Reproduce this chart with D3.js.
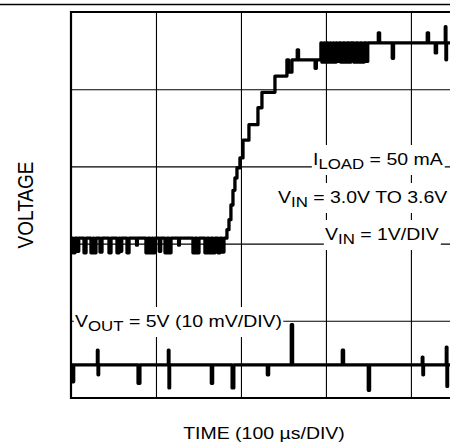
<!DOCTYPE html>
<html>
<head>
<meta charset="utf-8">
<script src="https://cdn.jsdelivr.net/npm/d3@7"></script>
<style>
  body { margin: 0; background: #fff; }
  text { font-family: "Liberation Sans", Arial, sans-serif; fill: #000; }
</style>
</head>
<body>
<script>
// time in µs (100 µs/DIV), level in divisions
let xGrid = [100, 200, 300, 400];
let yGrid = [1, 2, 3, 4];

// V_IN trace: level changes [t, level]
let vinSteps = [
  [1, 2.07], [183.5, 2.18], [185.9, 2.31], [188.2, 2.50], [190.6, 2.69],
  [192.9, 2.85], [195.3, 2.98], [198.8, 3.11], [202.4, 3.34], [209.4, 3.54],
  [220.0, 3.76], [224.7, 3.96], [240.0, 4.17], [254.1, 4.38], [294.1, 4.60]
];
// V_IN glitches: [t, width, high, low]
let vinGlitches = [
  [3.5, 2.4, 2.07, 1.88], [8.2, 1.8, 2.07, 1.90], [16.5, 2.4, 2.07, 1.88],
  [24.7, 2.4, 2.07, 1.88], [28.2, 2.4, 2.07, 1.88], [35.3, 2.4, 2.07, 1.89],
  [45.9, 2.4, 2.07, 1.88], [55.3, 2.4, 2.07, 1.88], [58.8, 1.8, 2.07, 1.90],
  [67.1, 2.4, 2.07, 1.88], [77.6, 1.0, 2.07, 1.98], [89.4, 2.4, 2.07, 1.88],
  [94.1, 2.4, 2.07, 1.88], [97.6, 2.4, 2.07, 1.88], [104.7, 1.8, 2.07, 1.90],
  [111.8, 2.4, 2.07, 1.88], [116.5, 2.4, 2.07, 1.88], [127.1, 1.0, 2.07, 1.98],
  [144.7, 2.4, 2.07, 1.88], [149.4, 2.4, 2.07, 1.88], [158.8, 2.4, 2.07, 1.88],
  [163.5, 2.4, 2.07, 1.88], [168.2, 2.4, 2.07, 1.88], [174.1, 2.4, 2.07, 1.88],
  [178.8, 2.4, 2.07, 1.89],
  [258.0, 4.0, 4.38, 4.22], [267.0, 1.5, 4.51, 4.38], [288.0, 1.5, 4.38, 4.27],
  [296.5, 2.4, 4.60, 4.35], [300.0, 2.4, 4.60, 4.35], [303.5, 2.4, 4.60, 4.35],
  [307.1, 2.4, 4.60, 4.35], [310.6, 2.4, 4.60, 4.35], [314.1, 2.4, 4.60, 4.36],
  [318.8, 2.4, 4.60, 4.35], [323.5, 2.4, 4.60, 4.35], [328.2, 2.0, 4.60, 4.35],
  [334.1, 2.4, 4.60, 4.35], [338.8, 2.4, 4.60, 4.35], [343.5, 2.4, 4.60, 4.35],
  [348.2, 2.0, 4.60, 4.36],
  [362.4, 1.5, 4.73, 4.60], [378.8, 1.5, 4.60, 4.40], [420.0, 1.5, 4.73, 4.60],
  [429.4, 1.5, 4.60, 4.47], [441.2, 1.5, 4.81, 4.38]
];

// V_OUT trace
let voutSteps = [[1, 0.43]];
let voutGlitches = [
  [2.4, 1.5, 0.43, 0.21], [31.8, 1.5, 0.62, 0.30], [80.0, 2.2, 0.43, 0.19],
  [115.3, 1.5, 0.62, 0.13], [165.9, 1.5, 0.43, 0.19], [190.6, 2.0, 0.43, 0.13],
  [231.8, 1.5, 0.43, 0.30], [260.0, 1.5, 0.95, 0.43], [320.0, 1.5, 0.62, 0.43],
  [350.6, 1.5, 0.43, 0.10], [414.1, 1.5, 0.53, 0.30], [442.4, 1.5, 0.66, 0.15]
];
let tEnd = 446;

let svg = d3.select("body").append("svg")
    .attr("width", 450)
    .attr("height", 446);

let x = d3.scaleLinear().domain([0, 446]).range([71, 450]);
let y = d3.scaleLinear().domain([0, 5]).range([398, 12]);

// page rule
svg.append("line")
    .attr("x1", 0).attr("x2", 450).attr("y1", 4.5).attr("y2", 4.5)
    .attr("stroke", "#000").attr("stroke-width", 1.3);

// grid
svg.append("g")
    .attr("transform", "translate(0," + y(0) + ")")
    .call(d3.axisBottom(x).tickValues(xGrid).tickSize(-(y(0) - y(5))).tickFormat(""))
    .call(g => g.select(".domain").remove())
    .selectAll("line").attr("stroke", "#000").attr("stroke-width", 1.1);

svg.append("g")
    .attr("transform", "translate(" + x(0) + ",0)")
    .call(d3.axisLeft(y).tickValues(yGrid).tickSize(-(450 - x(0))).tickFormat(""))
    .call(g => g.select(".domain").remove())
    .selectAll("line").attr("stroke", "#000").attr("stroke-width", 1.1);

// frame
svg.append("path")
    .attr("d", "M450," + y(5) + "H" + x(0) + "V" + y(0) + "H450")
    .attr("fill", "none").attr("stroke", "#000").attr("stroke-width", 2.2);

// labels with white backing
let label = function (px, py, parts) {
    let g = svg.append("g").attr("transform", "translate(" + px + "," + py + ") scale(1.16,1)");
    let rect = g.append("rect").attr("fill", "#fff");
    let t = g.append("text").attr("font-size", 16.8);
    let sub = false;
    parts.forEach(function (p) {
        let s = t.append("tspan").text(p[0]);
        if (p[1] && !sub) { s.attr("dy", 4).attr("font-size", 14.5); sub = true; }
        else if (p[1]) { s.attr("font-size", 14.5); }
        else if (sub) { s.attr("dy", -4); sub = false; }
    });
    let bb = t.node().getBBox();
    rect.attr("x", bb.x - 1).attr("width", bb.width + 2).attr("y", -20).attr("height", 30);
};

label(313, 165, [["I"], ["LOAD", true], [" = 50 mA"]]);
label(278, 203, [["V"], ["IN", true], [" = 3.0V TO 3.6V"]]);
label(325, 240, [["V"], ["IN", true], [" = 1V/DIV"]]);

// traces
let trace = function (steps, glitches) {
    let level = function (t) {
        let v = steps[0][1];
        steps.forEach(function (s) { if (s[0] <= t) v = s[1]; });
        return v;
    };
    let pts = steps.map(s => [s[0], s[1]]);
    glitches.forEach(function (gl) {
        let b = level(gl[0]);
        let t0 = gl[0] - gl[1] / 2, t1 = gl[0] + gl[1] / 2;
        if (gl[2] > b && gl[3] < b) pts.push([t0, gl[2]], [gl[0], gl[3]], [t1, b]);
        else if (gl[2] > b) pts.push([t0, gl[2]], [t1, b]);
        else pts.push([t0, gl[3]], [t1, b]);
    });
    pts.sort((a, b) => a[0] - b[0]);
    pts.push([tEnd, level(tEnd)]);
    return pts;
};

let line = d3.line()
    .x(d => x(d[0]))
    .y(d => y(d[1]))
    .curve(d3.curveStepAfter);

svg.append("path")
    .datum(trace(vinSteps, vinGlitches))
    .attr("d", line)
    .attr("fill", "none").attr("stroke", "#000").attr("stroke-width", 3.3)
    .attr("stroke-linejoin", "round").attr("stroke-linecap", "round");

label(75, 327, [["V"], ["OUT", true], [" = 5V (10 mV/DIV)"]]);

svg.append("path")
    .datum(trace(voutSteps, voutGlitches))
    .attr("d", line)
    .attr("fill", "none").attr("stroke", "#000").attr("stroke-width", 3.3)
    .attr("stroke-linejoin", "round").attr("stroke-linecap", "round");

// axis titles
svg.append("text")
    .attr("transform", "translate(264,439) scale(1.16,1)")
    .attr("text-anchor", "middle")
    .attr("font-size", 16.8)
    .text("TIME (100 µs/DIV)");

svg.append("text")
    .attr("transform", "translate(33,205) rotate(-90) scale(1,1.17)")
    .attr("text-anchor", "middle")
    .attr("font-size", 19)
    .text("VOLTAGE");
</script>
</body>
</html>
